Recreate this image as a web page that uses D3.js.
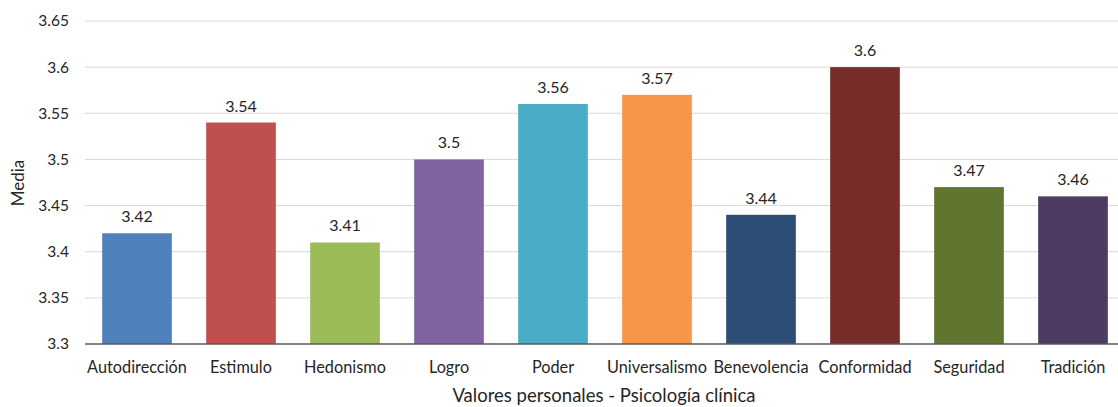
<!DOCTYPE html>
<html>
<head>
<meta charset="utf-8">
<script src="https://cdn.jsdelivr.net/npm/d3@7"></script>
<style>
  body { margin: 0; background: #fff; }
  text { font-family: Lato, "Open Sans", sans-serif; fill: #262626; }
</style>
</head>
<body>
<div id="chart"></div>
<script>
//Chart data
var categories = ["Autodirección", "Estimulo", "Hedonismo", "Logro", "Poder", "Universalismo", "Benevolencia", "Conformidad", "Seguridad", "Tradición"];
var values = [3.42, 3.54, 3.41, 3.5, 3.56, 3.57, 3.44, 3.6, 3.47, 3.46];
var barColors = ["#4F81BD", "#C0504D", "#9BBB59", "#8064A2", "#4BACC6", "#F79646", "#2C4D75", "#772C2A", "#5F7530", "#4D3B62"];
var yTicks = [3.3, 3.35, 3.4, 3.45, 3.5, 3.55, 3.6, 3.65];
var yLabel = "Media";
var xLabel = "Valores personales - Psicología clínica";

var width = 1118, height = 407;
var margin = {top: 21, right: -7, bottom: 63, left: 85};

var svg = d3.select("#chart").append("svg")
    .attr("width", width)
    .attr("height", height);

var x = d3.scaleBand()
    .domain(categories)
    .range([margin.left, width - margin.right])
    .paddingInner(0.33)
    .paddingOuter(0.165);

var y = d3.scaleLinear()
    .domain([3.3, 3.65])
    .range([height - margin.bottom, margin.top]);

//Horizontal grid
svg.append("g")
    .selectAll("line")
    .data(yTicks.slice(1))
    .enter().append("line")
      .attr("x1", margin.left)
      .attr("x2", width)
      .attr("y1", function(d) { return y(d); })
      .attr("y2", function(d) { return y(d); })
      .attr("stroke", "#d9d9d9")
      .attr("stroke-width", 1);

//Y tick labels
svg.append("g")
    .selectAll("text")
    .data(yTicks)
    .enter().append("text")
      .attr("x", 69)
      .attr("y", function(d) { return y(d); })
      .attr("dy", "0.35em")
      .attr("text-anchor", "end")
      .style("font-size", "15.5px")
      .text(function(d) { return +d.toFixed(2); });

//Bars
svg.append("g")
    .selectAll("rect")
    .data(values)
    .enter().append("rect")
      .attr("x", function(d, i) { return x(categories[i]); })
      .attr("y", function(d) { return y(d); })
      .attr("width", x.bandwidth())
      .attr("height", function(d) { return y(3.3) - y(d); })
      .attr("fill", function(d, i) { return barColors[i]; });

//Value labels
svg.append("g")
    .selectAll("text")
    .data(values)
    .enter().append("text")
      .attr("x", function(d, i) { return x(categories[i]) + x.bandwidth() / 2; })
      .attr("y", function(d) { return y(d) - 11; })
      .attr("text-anchor", "middle")
      .style("font-size", "16px")
      .text(function(d) { return d; });

//Baseline
svg.append("line")
    .attr("x1", margin.left)
    .attr("x2", width)
    .attr("y1", y(3.3))
    .attr("y2", y(3.3))
    .attr("stroke", "#595959")
    .attr("stroke-width", 1.5);

//Category labels
svg.append("g")
    .selectAll("text")
    .data(categories)
    .enter().append("text")
      .attr("x", function(d) { return x(d) + x.bandwidth() / 2; })
      .attr("y", 373)
      .attr("text-anchor", "middle")
      .style("font-size", "16.3px")
      .text(function(d) { return d; });

//Axis titles
svg.append("text")
    .attr("transform", "translate(24," + 183 + ") rotate(-90)")
    .attr("text-anchor", "middle")
    .style("font-size", "17px")
    .text(yLabel);

svg.append("text")
    .attr("x", 604)
    .attr("y", 402)
    .attr("text-anchor", "middle")
    .style("font-size", "18.5px")
    .text(xLabel);
</script>
</body>
</html>
